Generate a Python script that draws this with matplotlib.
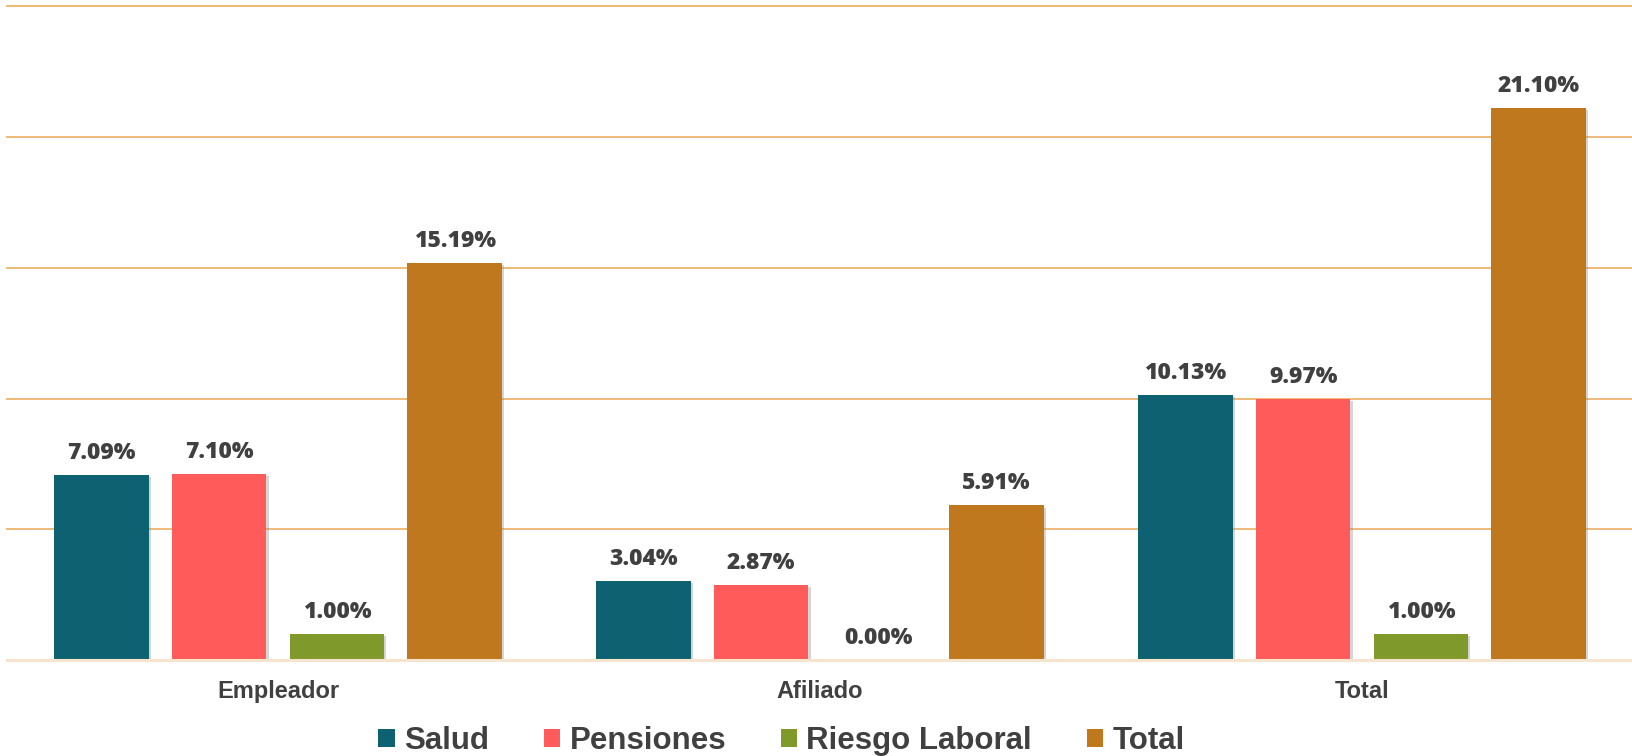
import matplotlib
matplotlib.use("Agg")
import matplotlib.pyplot as plt
import matplotlib.patheffects as pe
from matplotlib.patches import Patch
import numpy as np

categories = ["Empleador", "Afiliado", "Total"]
series = ["Salud", "Pensiones", "Riesgo Laboral", "Total"]
salud = [7.09, 3.04, 10.13]
pensiones = [7.10, 2.87, 9.97]
riesgo = [1.00, 0.00, 1.00]
total = [15.19, 5.91, 21.10]
colors = ["#0E6170", "#FF5B5B", "#7F9A2B", "#BF781D"]
values = [salud, pensiones, riesgo, total]

W, H = 1633, 756
fig = plt.figure(figsize=(W / 100, H / 100), dpi=100)
ax = fig.add_axes([7 / W, 96 / H, (W - 7) / W, (660 - 6.3) / H])

x = np.arange(len(categories))
bw = 0.1747
step = 0.2172
offsets = (np.arange(4) - 1.5) * step

ax.set_xlim(-0.5, 2.5)
ax.set_ylim(0, 25)
for g in [5, 10, 15, 20, 25]:
    ax.axhline(g, color="#EDB46C", lw=1.3, zorder=0.5, clip_on=False)
ax.axhline(0, color="#F7E4CF", lw=2.2, zorder=3, clip_on=False)

shadow = [pe.SimplePatchShadow(offset=(1.5, -1.5), shadow_rgbFace="#888888", alpha=0.35), pe.Normal()]
for i, (name, vals) in enumerate(zip(series, values)):
    bars = ax.bar(x + offsets[i], vals, width=bw, color=colors[i], zorder=2, label=name)
    for b in bars:
        b.set_path_effects(shadow)
    for xi, v in zip(x + offsets[i], vals):
        ax.annotate(f"{v:.2f}%", (xi, v), xytext=(0, 11.5), textcoords="offset points",
                    ha="center", va="baseline", fontsize=16.5, fontweight=800,
                    family=["Open Sans", "DejaVu Sans"], color="#404040")

for xi, c in zip(x, categories):
    ax.annotate(c, (xi, 0), xytext=(0, -27.5), textcoords="offset points",
                ha="center", va="baseline", fontsize=17, fontweight="bold",
                family=["Liberation Sans", "DejaVu Sans"], color="#404040",
                annotation_clip=False)

for s in ax.spines.values():
    s.set_visible(False)
ax.set_xticks([])
ax.set_yticks([])

handles = [Patch(facecolor=c, edgecolor="none") for c in colors]
leg = fig.legend(handles, series, loc="center", bbox_to_anchor=(781.5 / W, 1 - 741 / H),
                 ncol=4, frameon=False, handlelength=0.52, handleheight=0.52,
                 handletextpad=0.3, columnspacing=1.75, borderpad=0,
                 prop={"family": ["Liberation Sans", "DejaVu Sans"], "weight": "bold", "size": 22.5})
for t in leg.get_texts():
    t.set_color("#404040")

fig.savefig("out.png", dpi=100)
